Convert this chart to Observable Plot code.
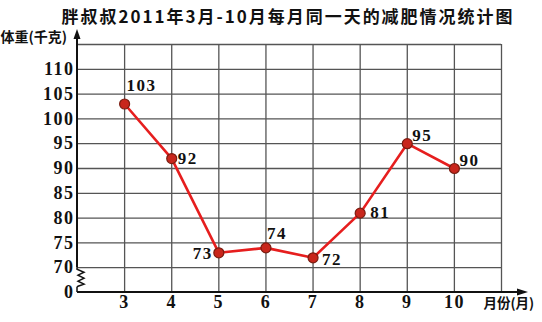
<!DOCTYPE html>
<html><head><meta charset="utf-8">
<script src="https://cdn.jsdelivr.net/npm/d3@7"></script>
<script src="https://cdn.jsdelivr.net/npm/@observablehq/plot@0.6"></script>
<style>
body{margin:0;background:#fff}
svg{display:block}
svg g[font-family*="Liberation"]{letter-spacing:1.5px}
</style>
</head><body><div id="chart"></div>
<script>
const title = "胖叔叔2011年3月-10月每月同一天的减肥情况统计图";
const yLabel = "体重(千克)";
const xLabel = "月份(月)";
const months = [3, 4, 5, 6, 7, 8, 9, 10];
const weights = [103, 92, 73, 74, 72, 81, 95, 90];
const yTicks = [65, 70, 75, 80, 85, 90, 95, 100, 105, 110]; // 65 is where "0" sits after the axis break
const yTickLabels = ["0", "70", "75", "80", "85", "90", "95", "100", "105", "110"];
const yGrid = [70, 75, 80, 85, 90, 95, 100, 105, 110, 115];
const xGrid = [3, 4, 5, 6, 7, 8, 9, 10, 11];

const data = months.map((m, i) => ({month: m, weight: weights[i]}));

// label placement (dx, dy, anchor) per month
const placement = {
  3: [2, -18, "start"], 4: [6, 0, "start"], 5: [-6, 1, "end"], 6: [1, -14, "start"],
  7: [9, 2, "start"], 8: [10, -1, "start"], 9: [5, -8, "start"], 10: [5, -8, "start"]
};

const serif = "'Liberation Serif', 'DejaVu Serif', serif";
const cjk = "'Noto Sans CJK SC', sans-serif";

function axesMark(index, {x, y}) {
  const g = d3.create("svg:g").attr("fill", "none").attr("stroke", "#111").attr("stroke-width", 2);
  const x0 = x(2), y0 = y(65), y70 = y(70), yTop = y(115), xR = x(11);
  g.append("path").attr("d", `M${x0},${y70}V${yTop - 8}`);
  g.append("path").attr("stroke-width", 1.5)
    .attr("d", `M${x0},${y70}v2l7,3l-6,3l6,3l-6,3l6,3l-6,2l-1,1V${y0}`);
  g.append("path").attr("d", `M${x0},${y0}H${xR + 18}`);
  g.append("path").attr("fill", "#111").attr("stroke", "none")
    .attr("d", `M${x0},${yTop - 15}l-3.5,10h7z`);
  g.append("path").attr("fill", "#111").attr("stroke", "none")
    .attr("d", `M${xR + 27},${y0}l-11,-3.5v7z`);
  return g.node();
}

const chart = Plot.plot({
  width: 542,
  height: 322,
  marginLeft: 77,
  marginRight: 41,
  marginTop: 44,
  marginBottom: 30,
  style: {background: "#fff", overflow: "visible"},
  x: {domain: [2, 11]},
  y: {domain: [65, 115]},
  marks: [
    Plot.ruleY(yGrid, {stroke: "#555", strokeWidth: 1.3}),
    Plot.ruleX(xGrid, {stroke: "#555", strokeWidth: 1.3}),
    axesMark,
    Plot.axisY({ticks: yTicks, tickSize: 0, tickPadding: 3, label: null,
      tickFormat: (d) => yTickLabels[yTicks.indexOf(d)],
      fontSize: 18, fontFamily: serif, fontWeight: "bold", fill: "#111"}),
    Plot.axisX({ticks: months, tickSize: 0, tickPadding: 3, label: null,
      tickFormat: (d) => String(d),
      fontSize: 18, fontFamily: serif, fontWeight: "bold", fill: "#111"}),
    Plot.line(data, {x: "month", y: "weight", stroke: "#e61e1e", strokeWidth: 2.6}),
    Plot.dot(data, {x: "month", y: "weight", r: 5, fill: "#c8261c", stroke: "#7a1c10", strokeWidth: 1.2}),
    ...data.map(d => Plot.text([d], {
      x: "month", y: "weight", text: v => String(v.weight),
      dx: placement[d.month][0], dy: placement[d.month][1],
      textAnchor: placement[d.month][2], lineAnchor: "middle",
      fontSize: 17, fontFamily: serif, fontWeight: "bold", fill: "#111"
    })),
    Plot.text([title], {frameAnchor: "top", dx: -2.5, dy: -26.5, lineAnchor: "middle",
      fontSize: 17, fontFamily: cjk, fontWeight: "bold", fill: "#111"}),
    Plot.text([yLabel], {frameAnchor: "top-left", dx: -77, dy: -7, textAnchor: "start", lineAnchor: "middle",
      fontSize: 14, fontFamily: cjk, fontWeight: "bold", fill: "#111"}),
    Plot.text([xLabel], {frameAnchor: "bottom-right", dx: -18, dy: 11, textAnchor: "start", lineAnchor: "middle",
      fontSize: 13.5, fontFamily: cjk, fontWeight: "bold", fill: "#111"})
  ]
});

d3.select(chart).selectAll("text").each(function () {
  if (this.textContent === title) {
    d3.select(this).attr("textLength", 451).attr("lengthAdjust", "spacing");
  }
});
document.getElementById("chart").append(chart);
</script>
</body></html>
